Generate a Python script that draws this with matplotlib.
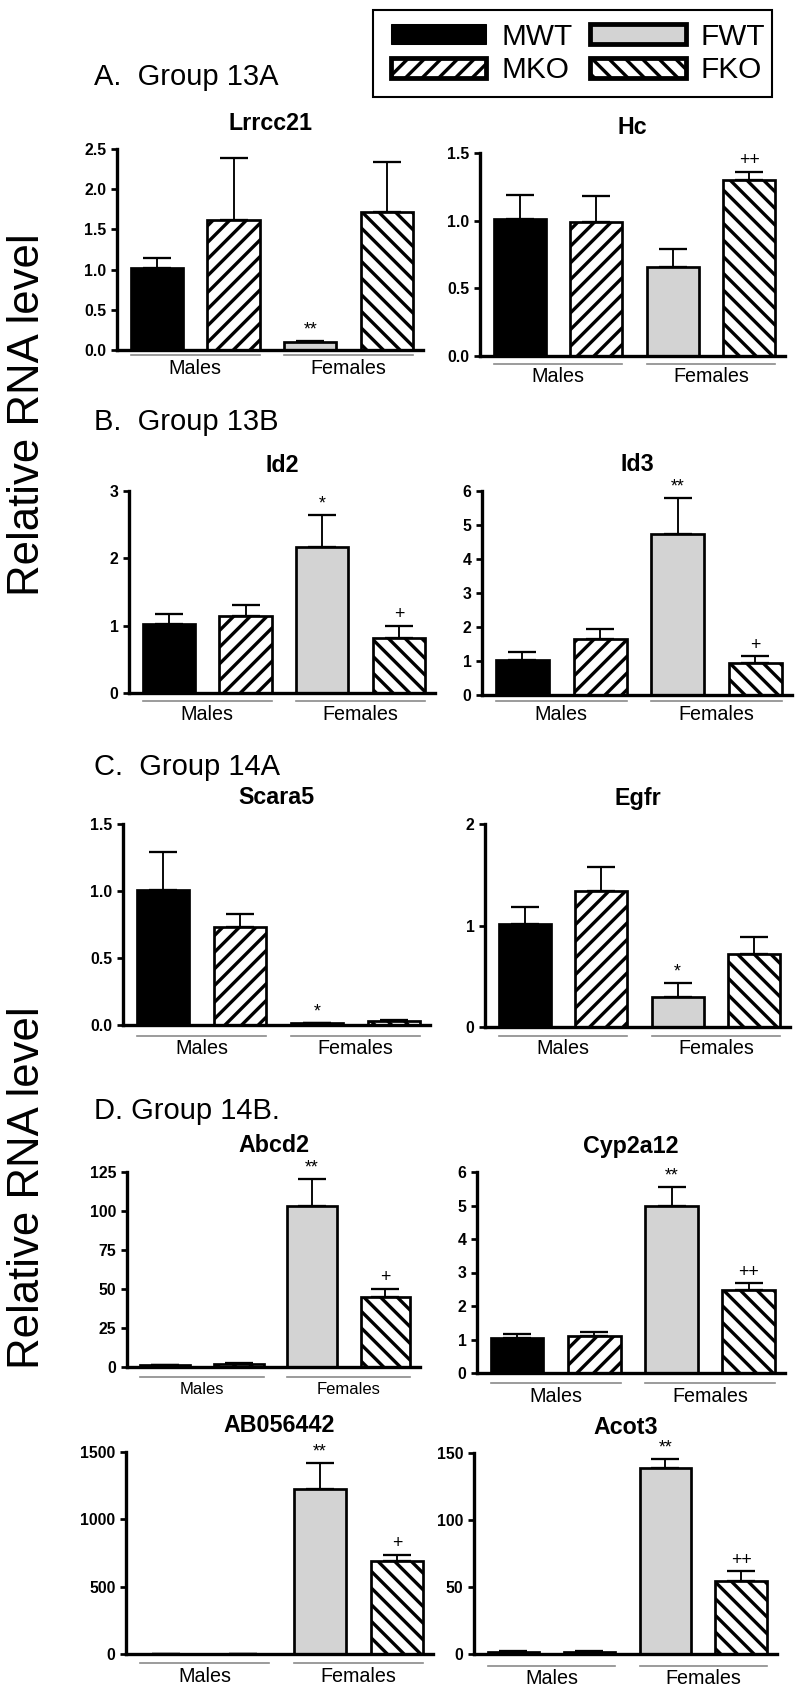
import matplotlib
matplotlib.use("Agg")
import matplotlib.pyplot as plt
import matplotlib.transforms as mtransforms
from matplotlib.patches import Patch, Rectangle

# ---------------- data ----------------
groups = ["MWT", "MKO", "FWT", "FKO"]
sexes = ["Males", "Females"]

lrrcc21_mean = [1.02, 1.62, 0.10, 1.72]
lrrcc21_err = [0.13, 0.77, 0.01, 0.62]
lrrcc21_sig = ["", "", "**", ""]
lrrcc21_ticks = ["0.0", "0.5", "1.0", "1.5", "2.0", "2.5"]

hc_mean = [1.01, 0.99, 0.66, 1.30]
hc_err = [0.18, 0.19, 0.13, 0.06]
hc_sig = ["", "", "", "++"]
hc_ticks = ["0.0", "0.5", "1.0", "1.5"]

id2_mean = [1.02, 1.14, 2.17, 0.82]
id2_err = [0.15, 0.16, 0.48, 0.18]
id2_sig = ["", "", "*", "+"]
id2_ticks = ["0", "1", "2", "3"]

id3_mean = [1.03, 1.64, 4.73, 0.95]
id3_err = [0.24, 0.30, 1.07, 0.19]
id3_sig = ["", "", "**", "+"]
id3_ticks = ["0", "1", "2", "3", "4", "5", "6"]

scara5_mean = [1.01, 0.73, 0.012, 0.032]
scara5_err = [0.28, 0.10, 0.003, 0.008]
scara5_sig = ["", "", "*", ""]
scara5_ticks = ["0.0", "0.5", "1.0", "1.5"]

egfr_mean = [1.01, 1.34, 0.30, 0.72]
egfr_err = [0.17, 0.24, 0.13, 0.17]
egfr_sig = ["", "", "*", ""]
egfr_ticks = ["0", "1", "2"]

abcd2_mean = [1.3, 2.1, 103.1, 44.6]
abcd2_err = [0.3, 0.4, 17.4, 5.6]
abcd2_sig = ["", "", "**", "+"]
abcd2_ticks = ["0", "25", "50", "75", "100", "125"]

cyp2a12_mean = [1.04, 1.09, 4.98, 2.48]
cyp2a12_err = [0.13, 0.12, 0.57, 0.20]
cyp2a12_sig = ["", "", "**", "++"]
cyp2a12_ticks = ["0", "1", "2", "3", "4", "5", "6"]

ab056442_mean = [1.0, 2.0, 1223, 689]
ab056442_err = [0.5, 1.0, 198, 47]
ab056442_sig = ["", "", "**", "+"]
ab056442_ticks = ["0", "500", "1000", "1500"]

acot3_mean = [1.7, 1.5, 138.8, 54.6]
acot3_err = [0.4, 0.4, 7.0, 7.2]
acot3_sig = ["", "", "**", "++"]
acot3_ticks = ["0", "50", "100", "150"]

headings = ["A.  Group 13A", "B.  Group 13B", "C.  Group 14A", "D. Group 14B."]
ylabel = "Relative RNA level"

# ---------------- style / layout ----------------
DPI = 150
W, H = 800, 1696
plt.rcParams['font.family'] = ['Liberation Sans', 'DejaVu Sans']
plt.rcParams['hatch.linewidth'] = 1.6
plt.rcParams['hatch.color'] = 'black'

fig = plt.figure(figsize=(W / DPI, H / DPI), dpi=DPI)

face = ['black', 'white', '#d3d3d3', 'white']
hatch = [None, '///', None, '\\\\\\']
GREY_LINE = '#8a8a8a'


def px_axes(x0, x1, ytop, ybot):
    return fig.add_axes([x0 / W, 1 - ybot / H, (x1 - x0) / W, (ybot - ytop) / H])


def pt(px):
    return px * 72.0 / DPI


def panel(rect, line_off, lab_size, title, mean, err, sig, ticks):
    ax = px_axes(*rect)
    x = list(range(len(groups)))
    tick_vals = [float(t) for t in ticks]
    ax.errorbar(x, mean, yerr=[[0] * len(err), err], fmt='none', ecolor='black',
                elinewidth=0.9, capsize=6.5, capthick=1.1, zorder=1, clip_on=False)
    for i in x:
        ax.bar(x[i], mean[i], width=0.68, color=face[i], edgecolor='black',
               hatch=hatch[i], linewidth=1.3, zorder=2)
        if sig[i]:
            ax.annotate(sig[i], (x[i], mean[i] + err[i]), xytext=(0, 1.2),
                        textcoords='offset points', ha='center', va='bottom',
                        fontsize=8.5, annotation_clip=False)
    ax.set_xlim(-0.52, 3.47)
    ax.set_ylim(tick_vals[0], tick_vals[-1])
    ax.set_yticks(tick_vals)
    ax.set_yticklabels(ticks, fontsize=7.6, fontweight='bold')
    ax.set_xticks([])
    for s in ['top', 'right']:
        ax.spines[s].set_visible(False)
    for s in ['left', 'bottom']:
        ax.spines[s].set_linewidth(1.6)
    ax.tick_params(axis='y', direction='out', length=3, width=1.3, pad=2)
    ax.patch.set_alpha(0)
    # group underlines and labels
    trans = mtransforms.blended_transform_factory(ax.transData, ax.transAxes)
    line_tr = trans + mtransforms.ScaledTranslation(0, -pt(line_off) / 72, fig.dpi_scale_trans)
    text_tr = trans + mtransforms.ScaledTranslation(0, -pt(line_off + 13) / 72, fig.dpi_scale_trans)
    for k, lab in enumerate(sexes):
        a, b = 2 * k - 0.34, 2 * k + 1.34
        ax.plot([a, b], [0, 0], color=GREY_LINE, lw=0.8, transform=line_tr, clip_on=False)
        ax.text((a + b) / 2, 0, lab, transform=text_tr, ha='center', va='center',
                fontsize=lab_size)
    title_tr = ax.transAxes + mtransforms.ScaledTranslation(0, pt(26) / 72, fig.dpi_scale_trans)
    ax.text(0.5, 1, title, transform=title_tr, ha='center', va='center',
            fontsize=11.2, fontweight='bold')
    return ax


panel((117, 423, 149, 350), 5, 9.5, "Lrrcc21", lrrcc21_mean, lrrcc21_err, lrrcc21_sig, lrrcc21_ticks)
panel((480, 785, 153, 356), 8, 9.5, "Hc", hc_mean, hc_err, hc_sig, hc_ticks)
panel((129, 435, 491, 693), 8, 9.5, "Id2", id2_mean, id2_err, id2_sig, id2_ticks)
panel((482, 792, 491, 695), 6, 9.5, "Id3", id3_mean, id3_err, id3_sig, id3_ticks)
panel((123, 430, 824, 1025), 11, 9.5, "Scara5", scara5_mean, scara5_err, scara5_sig, scara5_ticks)
panel((485, 790, 824, 1027), 9, 9.5, "Egfr", egfr_mean, egfr_err, egfr_sig, egfr_ticks)
panel((127, 420, 1172, 1367), 10, 8.0, "Abcd2", abcd2_mean, abcd2_err, abcd2_sig, abcd2_ticks)
panel((477, 785, 1172, 1373), 10, 9.5, "Cyp2a12", cyp2a12_mean, cyp2a12_err, cyp2a12_sig, cyp2a12_ticks)
panel((126, 433, 1452, 1654), 9, 9.5, "AB056442", ab056442_mean, ab056442_err, ab056442_sig, ab056442_ticks)
panel((474, 777, 1453, 1654), 12, 9.5, "Acot3", acot3_mean, acot3_err, acot3_sig, acot3_ticks)

for txt, yc in zip(headings, [77, 422, 767, 1111]):
    fig.text(94 / W, 1 - yc / H, txt, ha='left', va='center', fontsize=14)

for yc in [415, 1188]:
    fig.text(28 / W, 1 - yc / H, ylabel, rotation=90, ha='center', va='center', fontsize=21)

# legend
handles = [Patch(facecolor=face[i], edgecolor='black', hatch=hatch[i],
                 linewidth=0.5 if i == 0 else 2.3) for i in range(4)]
leg = fig.legend(handles, groups, ncol=2, loc='center',
                 bbox_to_anchor=(578 / W, 1 - 53.5 / H), frameon=False,
                 fontsize=14.3, handlelength=3.2, handleheight=0.66,
                 columnspacing=0.6, handletextpad=0.5, borderpad=0, labelspacing=0.2)
fig.patches.append(Rectangle((373 / W, 1 - 97 / H), (772 - 373) / W, (97 - 10) / H,
                             transform=fig.transFigure, fill=False, edgecolor='black',
                             linewidth=1.0))

fig.savefig("out.png", dpi=DPI)
